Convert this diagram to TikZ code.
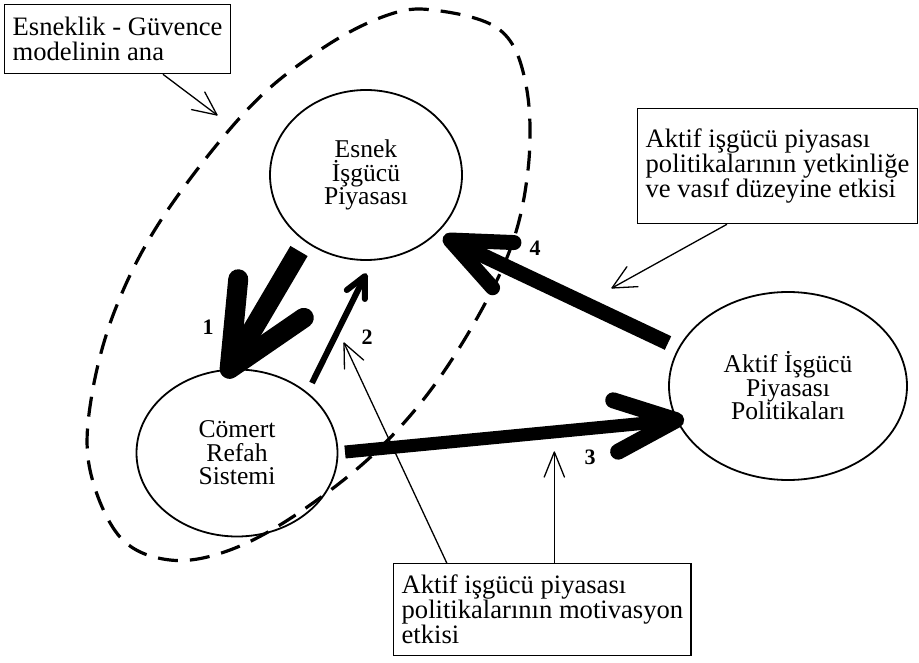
\documentclass[tikz,border=0pt]{standalone}
\usepackage{fontspec}
\setmainfont{Liberation Serif}
\usetikzlibrary{shapes.geometric,calc}
\tikzset{
  oval/.style={draw, ellipse, line width=1.8pt, inner sep=0pt, align=center,
    font=\fontsize{25.6}{23.5}\selectfont},
  note/.style={draw, line width=1.3pt, rectangle, anchor=north west, align=left,
    inner xsep=8pt, inner ysep=0pt, font=\fontsize{26.6}{25}\selectfont},
  num/.style={font=\fontsize{22}{22}\selectfont\bfseries, inner sep=0pt},
  dashring/.style={line width=3.2pt, dash pattern=on 20pt off 12pt},
}
% #1 options, #2 start, #3 tip, #4 line width, #5 barb length, #6 half angle
\newcommand\barbarrow[6]{%
  \draw[line width=#4, line cap=butt, #1] (#2) -- (#3);
  \draw[line width=#4, line cap=round, line join=round, #1]
    ($(#3)!#5!#6:(#2)$) -- (#3) -- ($(#3)!#5!-#6:(#2)$);
}
\begin{document}
\begin{tikzpicture}[x=1pt,y=-1pt]
\useasboundingbox (0,0) rectangle (919,663);

% dashed outline of the model
\draw[dashring] plot[smooth cycle, tension=0.6] coordinates {
  (433,10) (500,30) (526,85) (528,170) (506,260) (447,367) (380,448)
  (300,512) (230,550) (170,560) (120,537) (90,470) (91,400) (115,310)
  (163,217) (247,110) (320,50) (385,16)};

% ovals
\node[oval, minimum width=192pt, minimum height=170pt] (esnek) at (366,175)
  {Esnek\\İşgücü\\Piyasası};
\node[oval, minimum width=201pt, minimum height=167pt] (comert) at (237,453)
  {Cömert\\Refah\\Sistemi};
\node[oval, minimum width=238pt, minimum height=188pt] (aktif) at (788,386)
  {Aktif İşgücü\\Piyasası\\Politikaları};

% notes
\node[note, minimum height=69pt] (n1) at (4,4) {Esneklik - Güvence\\modelinin ana};
\node[note, minimum height=115pt] (n2) at (637,108)
  {Aktif işgücü piyasası\\politikalarının yetkinliğe\\ve vasıf düzeyine etkisi};
\node[note, minimum height=92pt] (n3) at (393,563)
  {Aktif işgücü piyasası\\politikalarının motivasyon\\etkisi};

% thick arrows
\coordinate (a1s) at (299,251);
\coordinate (a1t) at (comert.95);
\barbarrow{}{a1s}{a1t}{20pt}{90pt}{25}
\coordinate (a2s) at (312,383);
\coordinate (a2t) at (365,276);
\barbarrow{}{a2s}{a2t}{6pt}{23pt}{26}
\coordinate (a3s) at (345,452);
\coordinate (a3t) at (aktif.197);
\draw[line width=13pt, line cap=butt] (a3s) -- (a3t);
\draw[line width=16pt, line cap=round, line join=round]
  ($(a3t)!66pt!23:(a3s)$) -- (a3t) -- ($(a3t)!66pt!-23:(a3s)$);
\coordinate (a4s) at (668,343);
\coordinate (a4t) at (450,240);
\barbarrow{}{a4s}{a4t}{15pt}{64pt}{23}

% labels of the arrows
\node[num] (l1) at (208,327) {1};
\node[num] (l2) at (367,337) {2};
\node[num] (l3) at (590,457) {3};
\node[num] (l4) at (535,248) {4};

% thin pointer arrows
\coordinate (p1s) at ($(n1.south west)!0.70!(n1.south east)$);
\coordinate (p1t) at (217,115);
\barbarrow{}{p1s}{p1t}{1.3pt}{26pt}{25}
\coordinate (p2s) at ($(n2.south west)!0.32!(n2.south east)$);
\coordinate (p2t) at (612,288);
\barbarrow{}{p2s}{p2t}{1.3pt}{26pt}{26}
\coordinate (p3s) at ($(n3.north west)!0.18!(n3.north east)$);
\coordinate (p3t) at (344,343);
\barbarrow{}{p3s}{p3t}{1.3pt}{26pt}{24}
\coordinate (p4s) at ($(n3.north west)!0.54!(n3.north east)$);
\coordinate (p4t) at ($(p4s)+(0,-111)$);
\barbarrow{}{p4s}{p4t}{1.3pt}{27pt}{22}
\end{tikzpicture}
\end{document}
